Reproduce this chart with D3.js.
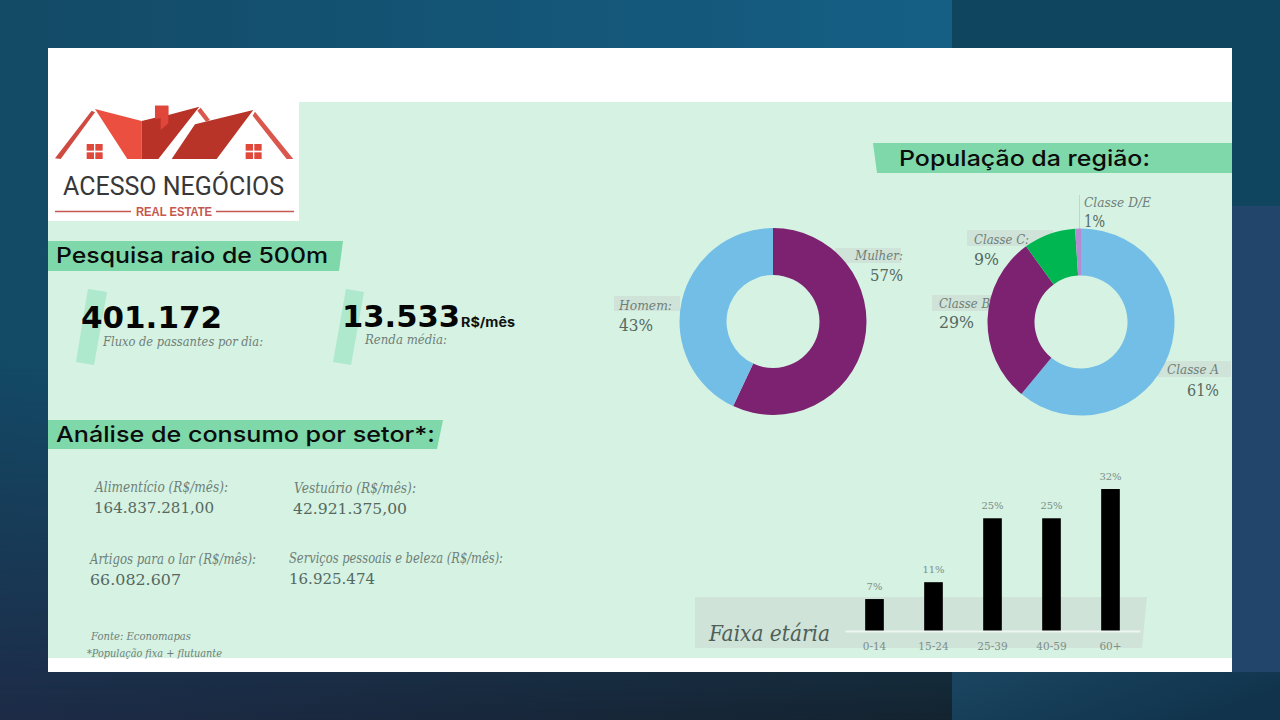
<!DOCTYPE html>
<html>
<head>
<meta charset="utf-8">
<script src="https://cdn.jsdelivr.net/npm/d3@7"></script>
<style>
  html, body { margin: 0; padding: 0; background: #14304d; }
  svg { display: block; }
</style>
</head>
<body>
<div id="chart"></div>
<script>
// values
const genderLabels = ["Mulher:", "Homem:"];
const genderValues = [57, 43];

const classLabels = ["Classe A", "Classe B", "Classe C:", "Classe D/E"];
const classValues = [61, 29, 9, 1];

const ageGroups = ["0-14", "15-24", "25-39", "40-59", "60+"];
const agePercent = [7.2, 11, 25.4, 25.4, 32];

const sectorLabels = ["Alimentício (R$/mês):", "Vestuário (R$/mês):", "Artigos para o lar (R$/mês):", "Serviços pessoais e beleza (R$/mês):"];
const sectorValues = ["164.837.281,00", "42.921.375,00", "66.082.607", "16.925.474"];

const kpiValues = ["401.172", "13.533"];
const kpiLabels = ["Fluxo de passantes por dia:", "Renda média:"];

const donutColors = ["#7d2270", "#72bee6"];
const classColors = ["#72bee6", "#7d2270", "#00b650", "#b58ad0"];

const sans = "'DejaVu Sans', sans-serif";
const serif = "'DejaVu Serif', serif";
const mint = "#d5f2e3", band = "#7fd8a9", slash = "#aee8cd", greyBand = "#cfe3d9";

const svg = d3.select("#chart").append("svg")
  .attr("width", 1280)
  .attr("height", 720);

const defs = svg.append("defs");

function gradient(id, x2, y2, stops) {
  const g = defs.append("linearGradient").attr("id", id)
    .attr("x1", 0).attr("y1", 0).attr("x2", x2).attr("y2", y2);
  stops.forEach((c, i) => g.append("stop")
    .attr("offset", i / (stops.length - 1))
    .attr("stop-color", c));
}
gradient("bgTop", 1, 0, ["#134a66", "#155f85"]);
gradient("bgBottom", 1, 0, ["#1d2b47", "#14232f"]);
gradient("fade", 0, 1, ["#000", "#000", "#fff"]);
gradient("bgRight", 1, 0.4, ["#1a4561", "#11344c"]);
defs.append("mask").attr("id", "fadeMask").attr("maskContentUnits", "objectBoundingBox")
  .append("rect").attr("width", 1).attr("height", 1).attr("fill", "url(#fade)");

const poly = (pts, fill, parent) => (parent || svg).append("polygon")
  .attr("points", pts.map(p => p.join(",")).join(" "))
  .attr("fill", fill);

// text fitted to the width it has in the picture
function label(str, x, y, w, size, opts) {
  opts = opts || {};
  return (opts.parent || svg).append("text")
    .attr("x", x).attr("y", y)
    .attr("textLength", w)
    .attr("lengthAdjust", "spacingAndGlyphs")
    .attr("font-family", opts.font || serif)
    .attr("font-size", size)
    .attr("font-style", opts.italic ? "italic" : "normal")
    .attr("font-weight", opts.weight || "normal")
    .attr("fill", opts.fill || "#5f7068")
    .text(str);
}
const italic = (str, x, y, w, size) => label(str, x, y, w, size, {italic: true, fill: "#6f7f78"});
const number = (str, x, y, w, size) => label(str, x, y, w, size, {fill: "#566860"});

// background pieces
svg.append("rect").attr("width", 952).attr("height", 720).attr("fill", "url(#bgTop)");
svg.append("rect").attr("width", 952).attr("height", 720).attr("fill", "url(#bgBottom)").attr("mask", "url(#fadeMask)");
svg.append("rect").attr("x", 952).attr("width", 328).attr("height", 206).attr("fill", "#10455f");
svg.append("rect").attr("x", 952).attr("y", 206).attr("width", 328).attr("height", 466).attr("fill", "#22466b");
svg.append("rect").attr("x", 952).attr("y", 672).attr("width", 328).attr("height", 48).attr("fill", "url(#bgRight)");

svg.append("rect").attr("x", 48).attr("y", 48).attr("width", 1184).attr("height", 624).attr("fill", "#fff");
svg.append("rect").attr("x", 48).attr("y", 102).attr("width", 1184).attr("height", 556).attr("fill", mint);
svg.append("rect").attr("x", 48).attr("y", 102).attr("width", 251).attr("height", 119).attr("fill", "#fff");

// logo, drawn in the 3x crop coordinates
const logo = svg.append("g").attr("transform", "translate(40,95) scale(0.3333)");
poly([[45,190],[155,47],[165,52],[62,192]], "#cf4a40", logo);
poly([[165,42],[305,78],[305,192],[262,192]], "#ea4f40", logo);
poly([[305,78],[345,68],[345,32],[385,32],[385,60],[478,35],[355,192],[305,192]], "#b83227", logo);
poly([[345,32],[385,32],[385,85],[362,105],[362,70],[345,72]], "#e0463a", logo);
poly([[482,38],[510,75],[498,80],[472,47]], "#d9574c", logo);
poly([[640,45],[465,88],[395,192],[530,192]], "#b93428", logo);
poly([[645,50],[760,192],[740,192],[638,62]], "#d9574c", logo);
[140, 617].forEach(wx => {
  [0, 26].forEach(dx => [0, 25].forEach(dy => {
    logo.append("rect").attr("x", wx + dx).attr("y", 147 + dy)
      .attr("width", 22).attr("height", 20).attr("fill", "#e0483c");
  }));
});
label("ACESSO NEGÓCIOS", 63, 195, 221, 25, {font: "Roboto, sans-serif", fill: "#383838"});
svg.append("line").attr("x1", 55).attr("x2", 131).attr("y1", 211.5).attr("y2", 211.5).attr("stroke", "#c4574f").attr("stroke-width", 1.5);
svg.append("line").attr("x1", 216).attr("x2", 294).attr("y1", 211.5).attr("y2", 211.5).attr("stroke", "#c4574f").attr("stroke-width", 1.5);
label("REAL ESTATE", 136, 216, 76, 12, {font: "'Liberation Sans', sans-serif", weight: "bold", fill: "#c4574f"});

// section headings
poly([[48,241],[343,241],[339,271],[48,271]], band);
poly([[48,420],[443,420],[437,449],[48,449]], band);
poly([[873,143],[1232,143],[1232,173],[877,173]], band);
const heading = {font: "Inter, sans-serif", weight: 500, fill: "#0c0c0c"};
label("Pesquisa raio de 500m", 56, 263, 272, 22, heading);
label("Análise de consumo por setor*:", 56, 442, 379, 22, heading);
label("População da região:", 899, 166, 251, 22, heading);

// KPIs
poly([[88,289],[107,292],[94,365],[76,362]], slash);
poly([[346,289],[364,292],[351,365],[333,362]], slash);
const kpi = {font: sans, weight: "bold", fill: "#050505"};
label(kpiValues[0], 81, 328, 141, 30, kpi);
label(kpiValues[1], 342, 327, 118, 30, kpi);
label("R$/mês", 461, 327, 54, 13, {font: "Inter, sans-serif", weight: 700, fill: "#111"});
italic(kpiLabels[0], 103, 346, 160, 13);
italic(kpiLabels[1], 365, 344, 82, 13);

// sector table
[[95, 492, 133, 94, 513, 120], [294, 493, 122, 293, 514, 114],
 [90, 564, 166, 90, 585, 91], [289, 563, 214, 289, 584, 86]].forEach((p, i) => {
  italic(sectorLabels[i], p[0], p[1], p[2], 14);
  number(sectorValues[i], p[3], p[4], p[5], 15);
});
italic("Fonte: Economapas", 91, 640, 100, 11);
italic("*População fixa + flutuante", 87, 657, 135, 11);

// grey tabs behind donut labels
[[835,248,66,15],[614,296,66,15],[967,230,86,16],[932,295,60,16],[1158,361,73,16]].forEach(r => {
  svg.append("rect").attr("x", r[0]).attr("y", r[1]).attr("width", r[2]).attr("height", r[3]).attr("fill", greyBand);
});
svg.append("line").attr("x1", 1079.5).attr("x2", 1079.5).attr("y1", 195).attr("y2", 230).attr("stroke", "#c3d6cc");

// donuts
const pie = d3.pie().sort(null);
const arc = d3.arc().innerRadius(46.5).outerRadius(93.5);

function donut(values, colors, cx, cy) {
  svg.append("g").attr("transform", `translate(${cx},${cy})`)
    .selectAll("path")
    .data(pie(values))
    .join("path")
      .attr("d", arc)
      .attr("fill", (d, i) => colors[i]);
}
donut(genderValues, donutColors, 773, 321.5);
donut(classValues, classColors, 1081, 322);

italic(genderLabels[0], 855, 260, 48, 13);
number(genderValues[0] + "%", 870, 281, 33, 16);
italic(genderLabels[1], 619, 310, 53, 13);
number(genderValues[1] + "%", 619, 331, 34, 16);

italic(classLabels[0], 1167, 374, 52, 13);
number(classValues[0] + "%", 1187, 396, 32, 16);
italic(classLabels[1], 939, 308, 51, 13);
number(classValues[1] + "%", 939, 328, 35, 16);
italic(classLabels[2], 974, 244, 55, 13);
number(classValues[2] + "%", 974, 265, 25, 16);
italic(classLabels[3], 1084, 207, 67, 13);
number(classValues[3] + "%", 1084, 227, 21, 16);

// age bars
poly([[695,597],[1147,597],[1142,648],[695,648]], greyBand);
label("Faixa etária", 709, 641, 121, 22, {italic: true, fill: "#4f5f58"});

const x = d3.scaleBand()
  .domain(ageGroups)
  .range([845, 1140])
  .paddingInner(0.684)
  .paddingOuter(0.342);
const y = d3.scaleLinear()
  .domain([0, 32])
  .range([631, 489]);

svg.selectAll(".bar")
  .data(ageGroups)
  .join("rect")
    .attr("class", "bar")
    .attr("x", d => x(d))
    .attr("y", (d, i) => y(agePercent[i]))
    .attr("width", x.bandwidth())
    .attr("height", (d, i) => y(0) - y(agePercent[i]))
    .attr("fill", "#000");

svg.selectAll(".bar-label")
  .data(ageGroups)
  .join("text")
    .attr("class", "bar-label")
    .attr("x", d => x(d) + x.bandwidth() / 2)
    .attr("y", (d, i) => y(agePercent[i]) - 9)
    .attr("text-anchor", "middle")
    .attr("font-family", serif)
    .attr("font-size", 10)
    .attr("fill", "#7d8f86")
    .text((d, i) => Math.round(agePercent[i]) + "%");

const axis = svg.append("g")
  .attr("transform", `translate(0,${y(0)})`)
  .call(d3.axisBottom(x).tickSize(0).tickPadding(12));
axis.select(".domain").attr("stroke", "#eef6f1").attr("stroke-width", 2);
axis.selectAll("text")
  .attr("font-family", serif)
  .attr("font-size", 10.5)
  .attr("fill", "#7d8f86");
</script>
</body>
</html>
